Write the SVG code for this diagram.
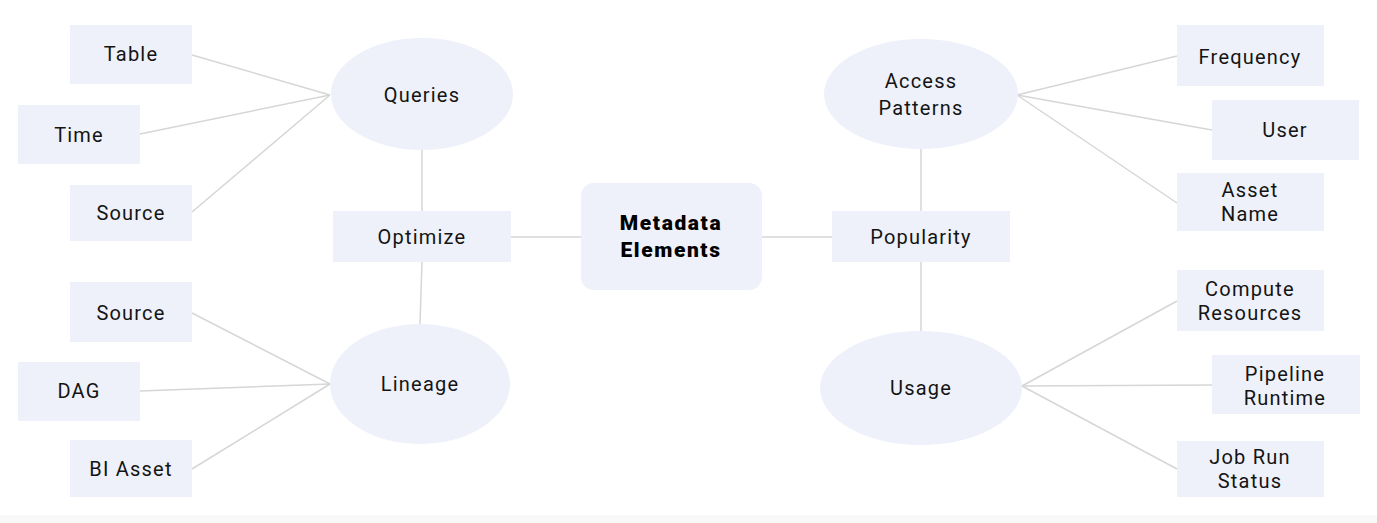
<svg xmlns="http://www.w3.org/2000/svg" width="1377" height="523" viewBox="0 0 1377 523">
<style>
.bg{fill:#ffffff}
.box{fill:#eef1fa}
.ell{fill:#eef1fa}
.con line{stroke:#d6d6d6;stroke-width:1.5}
text{font-family:Roboto,"Liberation Sans",sans-serif;font-size:20px;letter-spacing:1.2px;fill:#141414;text-anchor:middle;dominant-baseline:central}
.b{font-weight:900;fill:#000;font-size:21px;letter-spacing:1.6px}
</style>
<rect class="bg" x="0" y="0" width="1377" height="523"/>
<rect x="0" y="515" width="1377" height="8" fill="#f8f8f8"/>
<g class="con" id="connectors">
<line x1="192" y1="55" x2="330" y2="95"/>
<line x1="140" y1="134" x2="330" y2="95"/>
<line x1="192" y1="212" x2="330" y2="95"/>
<line x1="422" y1="150" x2="422" y2="211"/>
<line x1="422" y1="262" x2="420" y2="324"/>
<line x1="192" y1="313" x2="330" y2="384"/>
<line x1="140" y1="391" x2="330" y2="384"/>
<line x1="192" y1="469" x2="330" y2="384"/>
<line x1="511" y1="237" x2="581" y2="237"/>
<line x1="762" y1="237" x2="832" y2="237"/>
<line x1="921" y1="148" x2="921" y2="211"/>
<line x1="921" y1="262" x2="921" y2="331"/>
<line x1="1017" y1="95" x2="1177" y2="56"/>
<line x1="1017" y1="95" x2="1212" y2="130"/>
<line x1="1017" y1="95" x2="1177" y2="203"/>
<line x1="1022" y1="386" x2="1177" y2="301"/>
<line x1="1022" y1="386" x2="1212" y2="385"/>
<line x1="1022" y1="386" x2="1177" y2="469"/>
</g>
<g id="table"><rect class="box" x="70" y="25" width="122" height="59"/><text x="131" y="54">Table</text></g>
<g id="time"><rect class="box" x="18" y="105" width="122" height="59"/><text x="79" y="135">Time</text></g>
<g id="source1"><rect class="box" x="70" y="185" width="122" height="56"/><text x="131" y="213">Source</text></g>
<g id="queries"><ellipse class="ell" cx="422" cy="94" rx="91" ry="56"/><text x="422" y="95">Queries</text></g>
<g id="optimize"><rect class="box" x="333" y="211" width="178" height="51"/><text x="422" y="237">Optimize</text></g>
<g id="source2"><rect class="box" x="70" y="282" width="122" height="60"/><text x="131" y="313">Source</text></g>
<g id="dag"><rect class="box" x="18" y="362" width="122" height="59"/><text x="79" y="391">DAG</text></g>
<g id="biasset"><rect class="box" x="70" y="440" width="122" height="57"/><text x="131" y="469">BI Asset</text></g>
<g id="lineage"><ellipse class="ell" cx="420" cy="384" rx="90" ry="60"/><text x="420" y="384">Lineage</text></g>
<g id="metadata"><rect class="box" x="581" y="183" width="181" height="107" rx="13"/><text class="b" x="671" y="223"><tspan x="671" y="223">Metadata</tspan><tspan x="671" y="250">Elements</tspan></text></g>
<g id="popularity"><rect class="box" x="832" y="211" width="178" height="51"/><text x="921" y="237">Popularity</text></g>
<g id="access"><ellipse class="ell" cx="921" cy="94" rx="97" ry="55"/><text x="921" y="81"><tspan x="921" y="81">Access</tspan><tspan x="921" y="108">Patterns</tspan></text></g>
<g id="usage"><ellipse class="ell" cx="921" cy="388" rx="101" ry="57"/><text x="921" y="388">Usage</text></g>
<g id="frequency"><rect class="box" x="1177" y="25" width="147" height="61"/><text x="1250" y="57">Frequency</text></g>
<g id="user"><rect class="box" x="1212" y="100" width="147" height="60"/><text x="1285" y="130">User</text></g>
<g id="assetname"><rect class="box" x="1177" y="173" width="147" height="58"/><text x="1250" y="190"><tspan x="1250" y="190">Asset</tspan><tspan x="1250" y="214">Name</tspan></text></g>
<g id="compute"><rect class="box" x="1177" y="270" width="147" height="61"/><text x="1250" y="289"><tspan x="1250" y="289">Compute</tspan><tspan x="1250" y="313">Resources</tspan></text></g>
<g id="pipeline"><rect class="box" x="1212" y="355" width="148" height="59"/><text x="1285" y="374"><tspan x="1285" y="374">Pipeline</tspan><tspan x="1285" y="398">Runtime</tspan></text></g>
<g id="jobrun"><rect class="box" x="1177" y="441" width="147" height="56"/><text x="1250" y="457"><tspan x="1250" y="457">Job Run</tspan><tspan x="1250" y="481">Status</tspan></text></g>
</svg>
